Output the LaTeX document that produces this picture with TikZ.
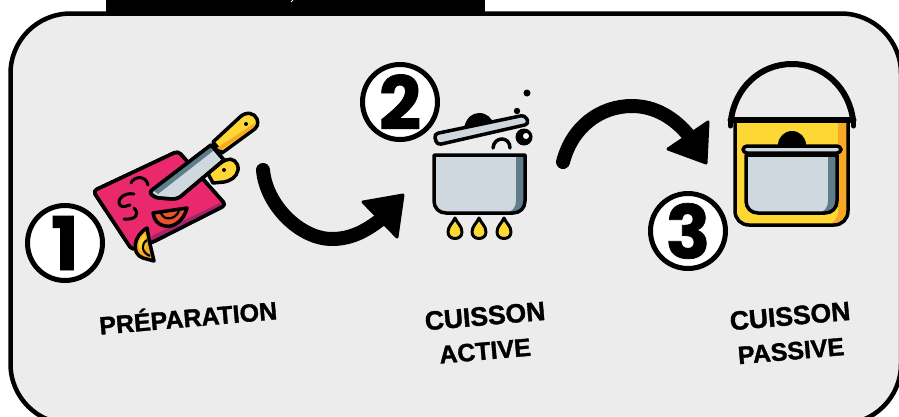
\documentclass[tikz,border=0pt]{standalone}
\usepackage{fontspec}
\newfontfamily\labfont[FakeBold=1.4]{Liberation Sans Bold}
\newfontfamily\digfont[FakeBold=1.0]{Poppins Bold}
\definecolor{panel}{HTML}{ECECEC}
\definecolor{pinkb}{HTML}{E9296B}
\definecolor{plum}{HTML}{A3246A}
\definecolor{steel}{HTML}{CFD8DF}
\definecolor{slate}{HTML}{607D8B}
\definecolor{yel}{HTML}{FDD835}
\definecolor{amber}{HTML}{F9A825}
\definecolor{tomato}{HTML}{E8552D}
\tikzset{
  ink/.style={draw=black,line width=3.5pt,line join=round,line cap=round},
  lab/.style={font=\labfont\fontsize{25}{27}\selectfont,text=black,inner sep=0pt,rotate=5,anchor=center},
  labwide/.style={lab,font=\labfont\fontsize{26.5}{28}\selectfont},
  numdisc/.style={circle,draw=black,line width=5pt,fill=white,minimum size=75pt,inner sep=0pt,font=\digfont\fontsize{74}{74}\selectfont},
  bigcurve/.style={draw=black,line width=14pt,line cap=round},
  bighead/.style={fill=black,draw=black,line width=3pt,line join=round},
  dropshape/.style={fill=amber,draw=black,line width=3pt,line join=round},
}
\newcommand{\flame}[2]{\draw[dropshape,fill=yel] (#1,#2-11) .. controls (#1+2,#2-6) and (#1+7,#2-3) .. (#1+7,#2+3) .. controls (#1+7,#2+7) and (#1+4,#2+9.5) .. (#1,#2+9.5) .. controls (#1-4,#2+9.5) and (#1-7,#2+7) .. (#1-7,#2+3) .. controls (#1-7,#2-3) and (#1-2,#2-6) .. (#1,#2-11) -- cycle;}
\begin{document}
\begin{tikzpicture}[x=1pt,y=-1pt]
\useasboundingbox (0,0) rectangle (899,416);
\clip (0,0) rectangle (899,416);
\fill[white] (0,0) rectangle (899,416);
% panel
\draw[fill=panel,draw=black,line width=4.5pt,rounded corners=60pt] (10.5,13.5) rectangle (901,424);
\fill[black] (106,0) rectangle (485,15.5);
\draw[white,line width=1pt] (293,0) -- (291,2);

% ---- board handle
\draw[ink,fill=yel] (206,170) -- (226,160) .. controls (232,157) and (239,162) .. (238,170) .. controls (237,177) and (230,181) .. (224,182) -- (213,183) -- cycle;
\fill[black] (224,170) circle (2pt);
% ---- board
\draw[ink,fill=pinkb,rounded corners=4pt] (93,191) -- (178,151) -- (226,205) -- (153,242) -- (132,250) -- cycle;
\fill[plum] (224,207) -- (222,202) -- (152,236) -- (150,242) -- (153,242) -- cycle;
\draw[ink,rounded corners=4pt] (93,191) -- (178,151) -- (226,205) -- (153,242) -- (132,250) -- cycle;
% ---- squiggles
\draw[black,line width=3pt,line cap=round] (131,183) .. controls (134,176) and (146,175) .. (148,185);
\draw[black,line width=3pt,line cap=round] (134,194) .. controls (124,192) and (116,200) .. (120,205) .. controls (122,208) and (126,206) .. (130,205);
\draw[black,line width=3pt,line cap=round] (134,208) .. controls (140,214) and (136,220) .. (124,219);
% ---- tomato
\draw[ink,fill=tomato] (153,213) -- (187,208) .. controls (184,220) and (174,228) .. (165,226) .. controls (158,225) and (154,220) .. (153,213) -- cycle;
\draw[black,line width=2.2pt] (161,213) .. controls (164,221) and (175,220) .. (179,211);
% ---- lemon
\draw[ink,fill=amber] (147,228) .. controls (133,236) and (131,254) .. (143,258) -- (154,261) -- (150,244) -- cycle;
\fill[yel] (145,234) .. controls (137,240) and (137,250) .. (143,252) -- (146,246) -- cycle;
\draw[black,line width=2.2pt] (147,240) .. controls (141,244) and (141,252) .. (150,256);
% ---- knife
\draw[ink,fill=yel] (213,142) -- (240,117) .. controls (246,111) and (255,113) .. (257,119) .. controls (259,124) and (257,128) .. (252,131) -- (222,153) -- cycle;
\fill[amber] (221,150) -- (253,128) -- (255,123) -- (217,148) -- cycle;
\fill[black] (246,124) circle (2pt);
\draw[ink,fill=steel] (211,145) -- (224,160) -- (180,197) .. controls (178,198) and (176,199) .. (172,199) -- (159,198) .. controls (152,197) and (148,192) .. (152,190) -- cycle;
\fill[slate] (210,147) -- (213,151) -- (158,194) -- (154,191) -- cycle;
\draw[ink] (211,145) -- (224,160) -- (180,197) .. controls (178,198) and (176,199) .. (172,199) -- (159,198) .. controls (152,197) and (148,192) .. (152,190) -- cycle;

% ---- pot 2
\fill[black] (464,128) .. controls (466,118) and (472,113) .. (479,113) .. controls (487,113) and (492,118) .. (494,125) -- cycle;
\draw[ink,fill=steel,rounded corners=4pt] (434,134) -- (525,115) -- (529,124) -- (437,145) -- cycle;
\fill[black] (527,93) circle (3.5pt);
\fill[black] (517,111) circle (3.2pt);
\fill[black] (524,137) circle (8.5pt);
\fill[white] (526,136) circle (3pt);
\draw[black,line width=3.5pt,line cap=round] (493,148) .. controls (494,136) and (510,136) .. (510,148);
\path[fill=steel] (434,155) -- (525,155) -- (525,201) .. controls (525,208) and (520,213) .. (513,213) -- (446,213) .. controls (439,213) and (434,208) .. (434,201) -- cycle;
\fill[slate] (516,155) -- (525,155) -- (525,201) .. controls (525,208) and (520,213) .. (513,213) -- (505,213) .. controls (512,212) and (516,208) .. (516,201) -- cycle;
\draw[ink] (434,155) -- (525,155) -- (525,201) .. controls (525,208) and (520,213) .. (513,213) -- (446,213) .. controls (439,213) and (434,208) .. (434,201) -- cycle;
\flame{455}{229}\flame{479}{229}\flame{504}{229}

% ---- bucket
\draw[black,line width=6pt] (731,120) .. controls (735,88) and (760,64) .. (792,64) .. controls (824,64) and (849,88) .. (853,120);
\path[fill=yel] (735,120) -- (848,120) -- (848,211) .. controls (848,219) and (842,225) .. (834,225) -- (749,225) .. controls (741,225) and (735,219) .. (735,211) -- cycle;
\fill[amber] (838,120) -- (848,120) -- (848,211) .. controls (848,219) and (842,225) .. (834,225) -- (826,225) .. controls (833,224) and (838,219) .. (838,211) -- cycle;
\draw[ink] (735,120) -- (848,120) -- (848,211) .. controls (848,219) and (842,225) .. (834,225) -- (749,225) .. controls (741,225) and (735,219) .. (735,211) -- cycle;
\draw[black,line width=6pt,line cap=round] (730.5,120) -- (853.5,120);
\draw[black,line width=5pt,line cap=round] (730.5,120) -- (730.5,126);
\draw[black,line width=5pt,line cap=round] (853.5,120) -- (853.5,126);
\fill[black] (778,145) arc[start angle=180,end angle=0,radius=14,y radius=-14] -- cycle;
\draw[ink,fill=steel,rounded corners=4pt] (743,146) -- (841,146) -- (841,153) -- (743,153) -- cycle;
\path[fill=steel] (746,155) -- (837,155) -- (837,201) .. controls (837,208) and (832,213) .. (825,213) -- (758,213) .. controls (751,213) and (746,208) .. (746,201) -- cycle;
\fill[slate] (828,155) -- (837,155) -- (837,201) .. controls (837,208) and (832,213) .. (825,213) -- (818,213) .. controls (824,212) and (828,208) .. (828,201) -- cycle;
\draw[ink] (746,155) -- (837,155) -- (837,201) .. controls (837,208) and (832,213) .. (825,213) -- (758,213) .. controls (751,213) and (746,208) .. (746,201) -- cycle;

% ---- arrows
\coordinate (aone) at (263,170);
\coordinate (aonemid) at (332,239);
\coordinate (aoneend) at (385,216);
\coordinate (atwo) at (563,162);
\coordinate (atwomid) at (632,106);
\coordinate (atwoend) at (690,137);
\draw[bigcurve,line cap=round] (aone) .. controls (266,205) and (300,239) .. (aonemid) .. controls (352,239) and (368,230) .. (aoneend);
\draw[bighead] (363,202) -- (403,195) -- (397,237) -- cycle;
\draw[bigcurve] (atwo) .. controls (572,127) and (600,106) .. (atwomid) .. controls (655,106) and (675,118) .. (atwoend);
\draw[bighead] (708,122) -- (706,163) -- (668,149) -- cycle;

% ---- numbers
\node[numdisc] (one) at (65,243) {1};
\node[numdisc] (two) at (400,102) {2};
\node[numdisc] (three) at (688,231) {3};

% ---- labels
\node[lab] (prep) at (188,316) {PRÉPARATION};
\node[labwide] (cuia) at (485,316) {CUISSON};
\node[lab] (acti) at (485,351) {ACTIVE};
\node[labwide] (cuip) at (790,316) {CUISSON};
\node[lab] (pass) at (791,351) {PASSIVE};
\end{tikzpicture}
\end{document}
